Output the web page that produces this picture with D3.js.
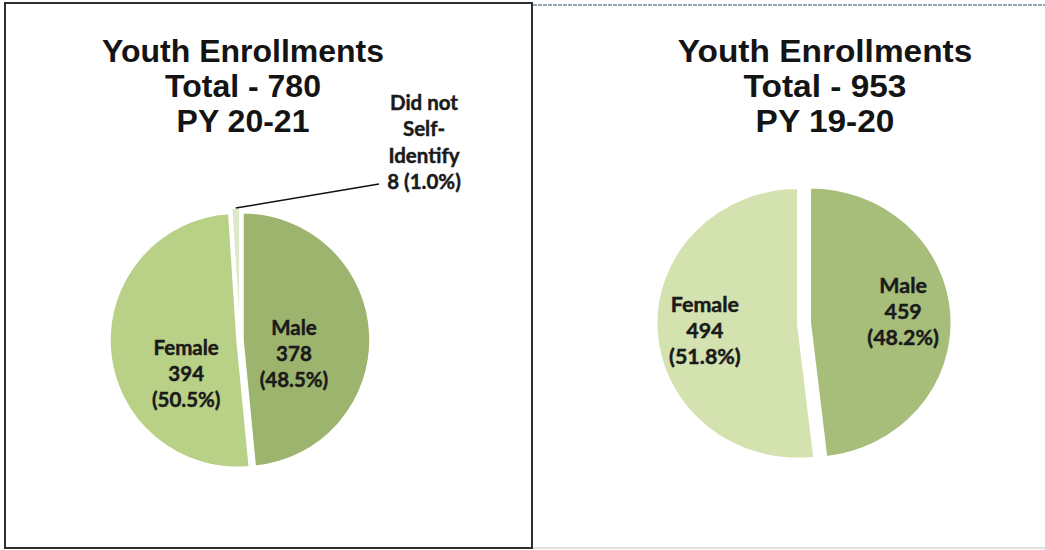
<!DOCTYPE html>
<html>
<head>
<meta charset="utf-8">
<script src="https://cdn.jsdelivr.net/npm/d3@7"></script>
<style>
  html, body { margin: 0; padding: 0; background: #fff; }
  svg { display: block; }
</style>
</head>
<body>
<svg id="chart" width="1045" height="550"></svg>
<script>
// Youth enrollments by gender, two program years
const programYears = ["PY 20-21", "PY 19-20"];
const totals = [780, 953];
const categories2021 = ["Male", "Female", "Did not Self-Identify"];
const values2021 = [378, 394, 8];
const categories1920 = ["Male", "Female"];
const values1920 = [459, 494];

const colors2021 = ["#9db46e", "#b9d087", "#dde9c8"];
const colors1920 = ["#a7be7b", "#d3e2af"];

// layout for each panel
const panels = [
  {
    year: programYears[0], total: totals[0],
    cats: categories2021, vals: values2021, colors: colors2021,
    titleX: 243, cx: 240, cy: 340, r: 127, sx: 1, explode: [3, 3, 5],
    labelR: 54, labelDy: [17, 30, 0]
  },
  {
    year: programYears[1], total: totals[1],
    cats: categories1920, vals: values1920, colors: colors1920,
    titleX: 825, cx: 804, cy: 323, r: 135, sx: 1.045, explode: [6, 6],
    labelR: 95, labelDy: [-6, 3]
  }
];

const svg = d3.select("#chart");

// panel frames
svg.append("rect")
  .attr("x", 5).attr("y", 3).attr("width", 527).attr("height", 545)
  .attr("fill", "none").attr("stroke", "#2e2e2e").attr("stroke-width", 2);
svg.append("line")
  .attr("x1", 533).attr("x2", 1045).attr("y1", 5).attr("y2", 5)
  .attr("stroke", "#6f8a98").attr("stroke-width", 1.5)
  .attr("stroke-dasharray", "4,1");
svg.append("line")
  .attr("x1", 533).attr("x2", 1045).attr("y1", 548).attr("y2", 548)
  .attr("stroke", "#d4d4d4").attr("stroke-width", 1.5);

const pct = d3.format(".1%");
const pie = d3.pie().sort(null).value(d => d.value);

function labelText(sel) {
  return sel
    .attr("font-family", "Lato, 'Open Sans', sans-serif")
    .attr("font-weight", "bold")
    .attr("font-size", 20.5)
    .attr("fill", "#1a1a1a")
    .attr("stroke", "#1a1a1a")
    .attr("stroke-width", 0.45);
}

panels.forEach(p => {
  const data = p.cats.map((c, i) => ({ name: c, value: p.vals[i], color: p.colors[i], i }));
  const arcs = pie(data);

  // title
  const title = svg.append("text")
    .attr("text-anchor", "middle")
    .attr("font-family", "'Liberation Sans', Arial, sans-serif")
    .attr("font-weight", "bold")
    .attr("font-size", 32)
    .attr("fill", "#141414")
    .attr("transform", `translate(${p.titleX},0) scale(${p.sx},1)`);
  ["Youth Enrollments", `Total - ${p.total}`, p.year].forEach((t, k) => {
    title.append("tspan").attr("x", 0).attr("y", 62 + k * 35).text(t);
  });

  const g = svg.append("g")
    .attr("transform", `translate(${p.cx},${p.cy}) scale(${p.sx},1)`);

  const arc = d3.arc().innerRadius(0).outerRadius(p.r);

  const slices = g.selectAll("g.slice").data(arcs).join("g")
    .attr("class", "slice")
    .attr("transform", d => {
      const a = (d.startAngle + d.endAngle) / 2;
      const e = p.explode[d.data.i];
      return `translate(${e * Math.sin(a)},${-e * Math.cos(a)})`;
    });

  slices.append("path")
    .attr("d", arc)
    .attr("fill", d => d.data.color)
    .attr("stroke", "#fff")
    .attr("stroke-width", 1.5);

  const total = d3.sum(p.vals);

  // labels inside the two large slices
  arcs.filter(d => d.value / total > 0.1).forEach(d => {
    const a = (d.startAngle + d.endAngle) / 2;
    const lx = p.labelR * Math.sin(a);
    const ly = -p.labelR * Math.cos(a) + p.labelDy[d.data.i];
    const t = g.append("text")
      .attr("text-anchor", "middle")
      .attr("transform", `translate(${lx},${ly})`)
      .call(labelText);
    const lines = [d.data.name, d.value, `(${pct(d.value / total)})`];
    lines.forEach((s, k) => {
      t.append("tspan").attr("x", 0).attr("y", (k - 1) * 26 + 7).text(s);
    });
  });

  // callout for the small slice
  arcs.filter(d => d.value / total <= 0.1).forEach(d => {
    const a = (d.startAngle + d.endAngle) / 2;
    const e = p.explode[d.data.i];
    const sx0 = (p.r + e) * Math.sin(a);
    const sy0 = -(p.r + e) * Math.cos(a);
    const lblX = 424 - p.cx, lblY = 184 - p.cy;
    g.append("line")
      .attr("x1", sx0).attr("y1", sy0)
      .attr("x2", lblX - 45).attr("y2", lblY)
      .attr("stroke", "#111").attr("stroke-width", 1.5);
    const t = g.append("text")
      .attr("text-anchor", "middle")
      .call(labelText);
    const lines = ["Did not", "Self-", "Identify", `${d.value} (${pct(d.value / total)})`];
    lines.forEach((s, k) => {
      t.append("tspan").attr("x", lblX).attr("y", lblY + 5 - (3 - k) * 26.3).text(s);
    });
  });
});
</script>
</body>
</html>
